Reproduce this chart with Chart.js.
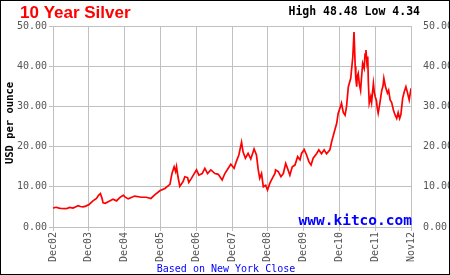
<!DOCTYPE html>
<html>
<head>
<meta charset="utf-8">
<script src="https://cdn.jsdelivr.net/npm/chart.js@4.4.0/dist/chart.umd.min.js"></script>
<style>
  html, body { margin: 0; padding: 0; background: #fff; }
  #wrap { width: 450px; height: 275px; position: relative; }
</style>
</head>
<body>
<div id="wrap"><canvas id="myChart" width="450" height="275"></canvas></div>
<script>
// month index counted from Dec 2002 (0) to Nov 2012 (120)
var months = [0, 0.6, 1.1, 2.0, 2.8, 4.3, 5.0, 5.6, 6.7, 7.5, 8.4, 9.2, 10.1, 11.0, 12.1, 13.4, 14.6, 15.2, 15.9,
  16.4, 16.8, 17.5, 18.5, 19.3, 20.1, 21.3, 22.2, 22.9, 23.6, 24.1, 25.2, 27.4, 29.7, 31.3, 32.8, 34.1, 35.8,
  37.5, 39.2, 39.9, 40.6, 41.1, 41.4, 41.9, 42.5, 43.6, 44.2, 45.1, 45.5, 46.4, 48.1, 48.9, 50.0, 50.9, 51.8,
  52.9, 54.3, 55.4, 56.7, 57.6, 58.9, 59.6, 60.7, 61.5, 62.3, 63.2, 63.7, 64.5, 65.4, 66.3, 67.4, 68.2, 68.8,
  69.3, 69.9, 70.5, 71.3, 71.9, 72.7, 73.5, 74.4, 74.6, 75.5, 76.4, 77.2, 78.0, 78.6, 79.4, 80.2, 81.1, 82.0,
  82.8, 83.3, 84.2, 85.0, 85.8, 86.5, 87.2, 88.4, 89.1, 90.0, 90.9, 91.7, 92.8, 93.4, 94.3, 95.1, 95.6, 96.5,
  96.7, 97.3, 97.9, 98.4, 99.0, 99.8, 100.5, 100.9, 101.3, 101.5, 101.8, 102.0, 102.3, 102.7, 103.1, 103.4,
  103.8, 104.3, 104.6, 104.9, 105.2, 105.5, 105.7, 106.0, 106.5, 106.8, 107.1, 107.4, 107.7, 108.0, 108.4,
  108.7, 109.0, 109.5, 110.2, 110.6, 110.9, 111.4, 112.1, 112.5, 113.0, 113.5, 114.1, 114.6, 115.2, 115.7,
  116.2, 116.6, 117.2, 117.7, 118.3, 118.8, 119.1, 119.4, 120];
var prices = [4.7, 4.85, 4.9, 4.7, 4.6, 4.55, 4.7, 4.9, 4.7, 5.0, 5.3, 5.1, 5.0, 5.2, 5.6, 6.5, 7.1, 7.8, 8.3,
  7.2, 6.0, 5.9, 6.3, 6.6, 6.9, 6.5, 7.2, 7.6, 7.9, 7.5, 7.0, 7.7, 7.4, 7.4, 7.1, 8.0, 9.0,
  9.6, 10.6, 13.4, 15.0, 13.8, 15.0, 12.5, 10.1, 11.3, 12.5, 12.3, 11.1, 12.1, 14.2, 12.9, 13.3, 14.6, 13.3,
  14.2, 13.3, 13.1, 11.7, 13.3, 14.8, 15.6, 14.6, 16.4, 17.9, 21.1, 18.7, 17.1, 18.3, 16.9, 19.4, 17.9, 14.2,
  12.1, 13.3, 10.0, 10.4, 9.2, 10.9, 12.1, 13.3, 14.2, 13.8, 12.5, 13.3, 15.8, 14.6, 12.9, 15.0, 15.4, 17.5,
  16.7, 18.3, 19.3, 17.9, 16.2, 15.4, 17.1, 18.3, 19.2, 18.2, 19.2, 18.2, 19.2, 21.2, 23.7, 25.8, 28.3, 30.3,
  30.8, 28.5, 27.8, 30.0, 34.9, 37.0, 42.4, 48.5, 39.9, 37.0, 34.9, 37.5, 38.2, 35.5, 34.0, 37.0,
  40.7, 39.5, 43.0, 44.0, 41.0, 42.4, 36.0, 30.8, 32.4, 31.0, 33.5, 35.7, 33.5, 32.4, 31.5,
  29.5, 28.3, 30.5, 34.0, 35.0, 37.0, 35.0, 33.3, 34.0, 31.6, 31.0, 29.1, 28.0, 27.0, 28.5,
  27.0, 27.9, 32.0, 33.5, 34.9, 33.5, 32.5, 31.6, 34.5];
var xLabels = ['Dec02', 'Dec03', 'Dec04', 'Dec05', 'Dec06', 'Dec07', 'Dec08', 'Dec09', 'Dec10', 'Dec11', 'Nov12'];
var chartTitle = '10 Year Silver';
var highLow = 'High 48.48 Low 4.34';

var points = [];
for (var i in months) {
    points.push({x: months[i], y: prices[i]});
}

var tickFont = {family: 'DejaVu Sans Mono', size: 10};
var gridColor = '#c0c0c0';

// extra texts drawn over the chart
var textPlugin = {
    id: 'texts',
    afterDraw: function(chart) {
        var ctx = chart.ctx;
        ctx.save();
        ctx.fillStyle = '#ff0000';
        ctx.font = 'bold 17px "Liberation Sans", Arial';
        ctx.textAlign = 'left';
        ctx.textBaseline = 'alphabetic';
        ctx.fillText(chartTitle, 20, 18);

        ctx.fillStyle = '#000';
        ctx.font = 'bold 11.5px "DejaVu Sans Mono"';
        ctx.textAlign = 'right';
        ctx.fillText(highLow, 420, 15);

        ctx.fillStyle = '#0000ff';
        ctx.font = 'bold 14.5px "DejaVu Sans Mono"';
        ctx.fillText('www.kitco.com', 412, 225);

        ctx.font = '10px "DejaVu Sans Mono"';
        ctx.textAlign = 'center';
        ctx.fillText('Based on New York Close', 226, 272);

        ctx.fillStyle = '#000';
        ctx.font = 'bold 10.5px "DejaVu Sans Mono"';
        ctx.translate(13, 123);
        ctx.rotate(-Math.PI / 2);
        ctx.textAlign = 'center';
        ctx.fillText('USD per ounce', 0, 0);
        ctx.restore();

        ctx.save();
        ctx.strokeStyle = '#000';
        ctx.lineWidth = 1;
        ctx.strokeRect(0.5, 0.5, 449, 274);
        ctx.restore();
    }
};

var ctx = document.getElementById('myChart').getContext('2d');
var chart = new Chart(ctx, {
    type: 'line',
    data: {
        datasets: [{
            data: points,
            borderColor: '#ff0000',
            borderWidth: 1.7,
            pointRadius: 0,
            tension: 0,
            yAxisID: 'y'
        }]
    },
    options: {
        responsive: false,
        animation: false,
        layout: {padding: {top: 26, left: 0, right: 0, bottom: 0}},
        plugins: {legend: {display: false}, tooltip: {enabled: false}},
        scales: {
            x: {
                type: 'linear',
                min: 0,
                max: 120,
                afterFit: function(scale) { scale.height = 48; },
                afterBuildTicks: function(scale) {
                    scale.ticks = xLabels.map(function(l, i) { return {value: i * 12}; });
                },
                ticks: {
                    autoSkip: false,
                    maxRotation: 90,
                    minRotation: 90,
                    padding: 1,
                    color: '#555',
                    font: tickFont,
                    callback: function(v) { return xLabels[Math.round(v / 12)]; }
                },
                grid: {color: gridColor, tickLength: 4},
                border: {color: gridColor}
            },
            y: {
                position: 'left',
                min: 0,
                max: 50,
                afterFit: function(scale) { scale.width = 53; },
                ticks: {
                    stepSize: 10,
                    padding: 2,
                    color: '#555',
                    font: tickFont,
                    callback: function(v) { return v.toFixed(2); }
                },
                grid: {color: gridColor, tickLength: 4},
                border: {color: gridColor}
            },
            y2: {
                position: 'right',
                min: 0,
                max: 50,
                afterFit: function(scale) { scale.width = 39; },
                ticks: {
                    stepSize: 10,
                    padding: 4,
                    color: '#555',
                    font: tickFont,
                    callback: function(v) { return v.toFixed(2); }
                },
                grid: {display: false},
                border: {display: true, color: gridColor}
            }
        }
    },
    plugins: [textPlugin]
});
</script>
</body>
</html>
